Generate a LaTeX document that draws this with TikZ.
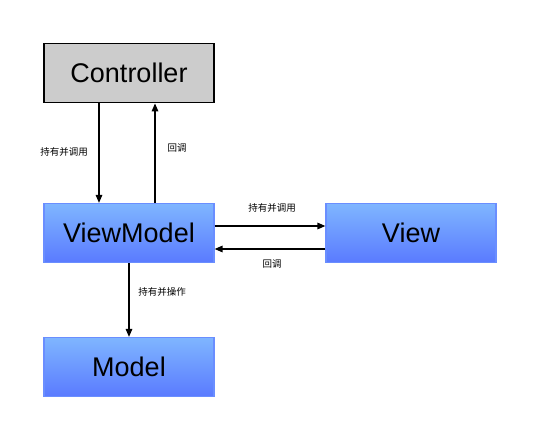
\documentclass[tikz,border=0pt]{standalone}
\usepackage{fontspec}
\setmainfont{Liberation Sans}
\newfontfamily\cjk{Noto Sans CJK SC}
\usetikzlibrary{arrows.meta}
\definecolor{ctrlfill}{HTML}{CCCCCC}
\definecolor{bluetop}{HTML}{7FB6FF}
\definecolor{bluebot}{HTML}{5A7AFF}
\definecolor{blueedge}{HTML}{6A8EFF}
\tikzset{
  box/.style={minimum width=170pt, minimum height=59pt, inner sep=0pt, font=\fontsize{27}{30}\selectfont},
  graybox/.style={box, fill=ctrlfill, draw=black, line width=1.8pt},
  bluebox/.style={box, top color=bluetop, bottom color=bluebot, draw=blueedge, line width=1.2pt},
  conn/.style={-{Triangle[length=8pt,width=6.5pt]}, line width=1.5pt, black},
  lbl/.style={font=\cjk\fontsize{9.5}{11}\selectfont, inner sep=0pt}
}
\begin{document}
\begin{tikzpicture}[x=1pt,y=-1pt]
\useasboundingbox (0,0) rectangle (543,447);
\node[graybox] (ctrl) at (129,73) {Controller};
\node[bluebox] (vm) at (129,233) {ViewModel};
\node[bluebox] (view) at (411,233) {View};
\node[bluebox] (model) at (129,367) {Model};
\coordinate (c1) at (99,0);
\coordinate (c2) at (155,0);
\draw[conn] (ctrl.south -| c1) -- (vm.north -| c1);
\draw[conn] (vm.north -| c2) -- (ctrl.south -| c2);
\coordinate (h1) at (0,226);
\coordinate (h2) at (0,249);
\draw[conn] (vm.east |- h1) -- (view.west |- h1);
\draw[conn] (view.west |- h2) -- (vm.east |- h2);
\draw[conn] (vm.south) -- (model.north);
\node[lbl] (l1) at (64,152) {持有并调用};
\node[lbl] (l2) at (177,148) {回调};
\node[lbl] (l3) at (272,208) {持有并调用};
\node[lbl] (l4) at (272,264) {回调};
\node[lbl] (l5) at (162,292) {持有并操作};
\end{tikzpicture}
\end{document}
